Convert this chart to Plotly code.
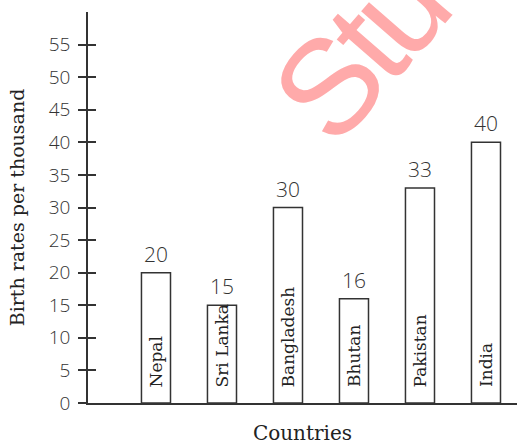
import plotly.graph_objects as go

countries = ["Nepal", "Sri Lanka", "Bangladesh", "Bhutan", "Pakistan", "India"]
birth_rates = [20, 15, 30, 16, 33, 40]
y_ticks = list(range(0, 60, 5))

INK = "#333333"

fig = go.Figure()
fig.add_trace(go.Bar(
    x=countries, y=birth_rates, width=0.44,
    marker=dict(color="white", line=dict(color=INK, width=1.5)),
    showlegend=False, hoverinfo="skip",
))
# overlay axis to draw the inner half of crossing ticks
fig.add_trace(go.Scatter(
    x=countries, y=birth_rates, yaxis="y2", mode="none",
    showlegend=False, hoverinfo="skip",
))

annotations = []
for c, v in zip(countries, birth_rates):
    annotations.append(dict(
        x=c, y=0, xref="x", yref="y", text=c, showarrow=False,
        textangle=-90, xanchor="center", yanchor="bottom", yshift=14,
        font=dict(family="DejaVu Serif", size=17, color="#222222"),
    ))
    annotations.append(dict(
        x=c, y=v, xref="x", yref="y", text=str(v), showarrow=False,
        xanchor="center", yanchor="bottom", yshift=3,
        font=dict(family="Open Sans", size=21, color=INK, weight=300),
    ))
annotations.append(dict(
    x=(382 - 88) / 429, y=(403 - 26) / 391, xref="paper", yref="paper",
    text='<span style="letter-spacing:-7px">Stud</span>',
    showarrow=False, textangle=-49, xanchor="center", yanchor="middle",
    font=dict(family="Liberation Sans", size=135, color="#FFAAAA"),
))

fig.update_layout(
    width=517, height=445,
    margin=dict(l=88, r=0, t=12, b=42),
    plot_bgcolor="white", paper_bgcolor="white",
    annotations=annotations,
    xaxis=dict(
        type="category", range=[-1.03, 5.47], automargin=False,
        showline=True, linecolor=INK, linewidth=1.5,
        ticks="", showticklabels=False, showgrid=False, zeroline=False,
        title=dict(text="Countries", standoff=22,
                   font=dict(family="DejaVu Serif", size=20, color="#222222")),
    ),
    yaxis=dict(
        range=[0, 60], tickvals=y_ticks, automargin=False,
        showline=True, linecolor=INK, linewidth=1.5,
        ticks="outside", ticklen=8, tickwidth=1.5, tickcolor=INK,
        showgrid=False, zeroline=False, ticklabelstandoff=4,
        tickfont=dict(family="Open Sans", size=19, color=INK, weight=300),
        title=dict(text="Birth rates per thousand", standoff=19,
                   font=dict(family="DejaVu Serif", size=19, color="#222222")),
    ),
    yaxis2=dict(
        range=[0, 60], tickvals=y_ticks, overlaying="y", side="left", anchor="x",
        automargin=False,
        ticks="inside", ticklen=8, tickwidth=1.5, tickcolor=INK,
        showticklabels=False, showgrid=False, zeroline=False, showline=False,
    ),
)

fig.write_html("out.html", config={"displayModeBar": False},
               post_script="document.body.style.margin='0';")
